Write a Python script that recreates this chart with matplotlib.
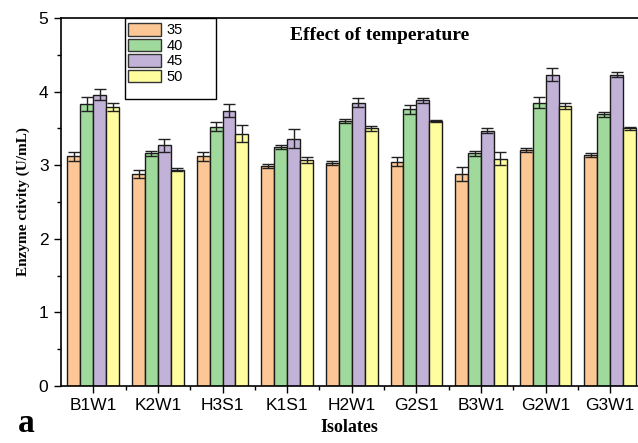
import numpy as np
import matplotlib
matplotlib.use("Agg")
import matplotlib.pyplot as plt
from matplotlib.patches import Rectangle, Patch

# 数据
isolates = ["B1W1", "K2W1", "H3S1", "K1S1", "H2W1", "G2S1", "B3W1", "G2W1", "G3W1"]
temps = ["35", "40", "45", "50"]

t35 = [3.12, 2.88, 3.12, 2.99, 3.03, 3.05, 2.88, 3.21, 3.14]
t40 = [3.83, 3.16, 3.52, 3.25, 3.60, 3.76, 3.16, 3.85, 3.69]
t45 = [3.96, 3.27, 3.74, 3.36, 3.85, 3.88, 3.47, 4.23, 4.23]
t50 = [3.79, 2.94, 3.43, 3.07, 3.50, 3.60, 3.09, 3.80, 3.50]

e35 = [0.06, 0.05, 0.06, 0.03, 0.03, 0.06, 0.09, 0.03, 0.03]
e40 = [0.09, 0.03, 0.06, 0.03, 0.03, 0.06, 0.03, 0.07, 0.03]
e45 = [0.08, 0.09, 0.09, 0.13, 0.06, 0.03, 0.03, 0.09, 0.03]
e50 = [0.06, 0.02, 0.11, 0.04, 0.03, 0.02, 0.09, 0.04, 0.02]

colors = ["#FCC794", "#A0D99C", "#C3B2D8", "#FFFD9E"]

fig = plt.figure(figsize=(6.38, 4.43), dpi=100)
ax = fig.add_axes([0.0956, 0.1287, 0.9044, 0.8307])

x = np.arange(len(isolates))
w = 0.2
series = [t35, t40, t45, t50]
errs = [e35, e40, e45, e50]
for i in range(4):
    ax.bar(x + (i - 1.5) * w, series[i], w, yerr=errs[i], color=colors[i],
           edgecolor="#1a1a1a", linewidth=1.0, capsize=4,
           error_kw=dict(elinewidth=1.0, ecolor="#222222", capthick=1.0))

ax.set_xlim(-0.5, 8.43)
ax.set_ylim(0, 5)
ax.set_xticks(x)
ax.set_xticklabels(isolates, fontfamily="Liberation Sans", fontsize=12.5)
ax.set_xticks(x[:-1] + 0.5, minor=True)
ax.set_yticks([0, 1, 2, 3, 4, 5])
ax.set_yticklabels(["0", "1", "2", "3", "4", "5"], fontfamily="Liberation Sans", fontsize=12.5)
ax.set_yticks(np.arange(0.5, 5, 1), minor=True)
ax.tick_params(axis="both", which="major", direction="out", length=5, width=1, pad=4)
ax.tick_params(axis="both", which="minor", direction="out", length=3, width=1)

ax.spines["right"].set_visible(False)
for s in ["left", "bottom", "top"]:
    ax.spines[s].set_linewidth(1.2)

ax.set_ylabel("Enzyme ctivity (U/mL)", fontfamily="Liberation Serif",
              fontweight="bold", fontsize=11, labelpad=6)
ax.set_xlabel("Isolates", fontfamily="Liberation Serif", fontweight="bold",
              fontsize=13, labelpad=4)

ax.text(0.553, 0.953, "Effect of temperature", transform=ax.transAxes,
        ha="center", va="center", fontfamily="Liberation Serif",
        fontweight="bold", fontsize=14)

fig.text(0.028, 0.008, "a", fontfamily="Liberation Serif", fontweight="bold",
         fontsize=24, ha="left", va="bottom")

# 图例
handles = [Patch(facecolor=colors[i], edgecolor="#333333", label=temps[i]) for i in range(4)]
leg = ax.legend(handles=handles, loc="upper left", bbox_to_anchor=(0.112, 0.992),
                frameon=False, handlelength=2.3, handleheight=0.95,
                labelspacing=0.08, handletextpad=0.35, borderpad=0.15, borderaxespad=0,
                prop={"family": "Liberation Sans", "size": 10.5})
ax.add_patch(Rectangle((0.111, 0.780), 0.158, 0.220, transform=ax.transAxes,
                       fill=False, edgecolor="black", linewidth=1.0, clip_on=False))

plt.savefig("out.png", dpi=100)
